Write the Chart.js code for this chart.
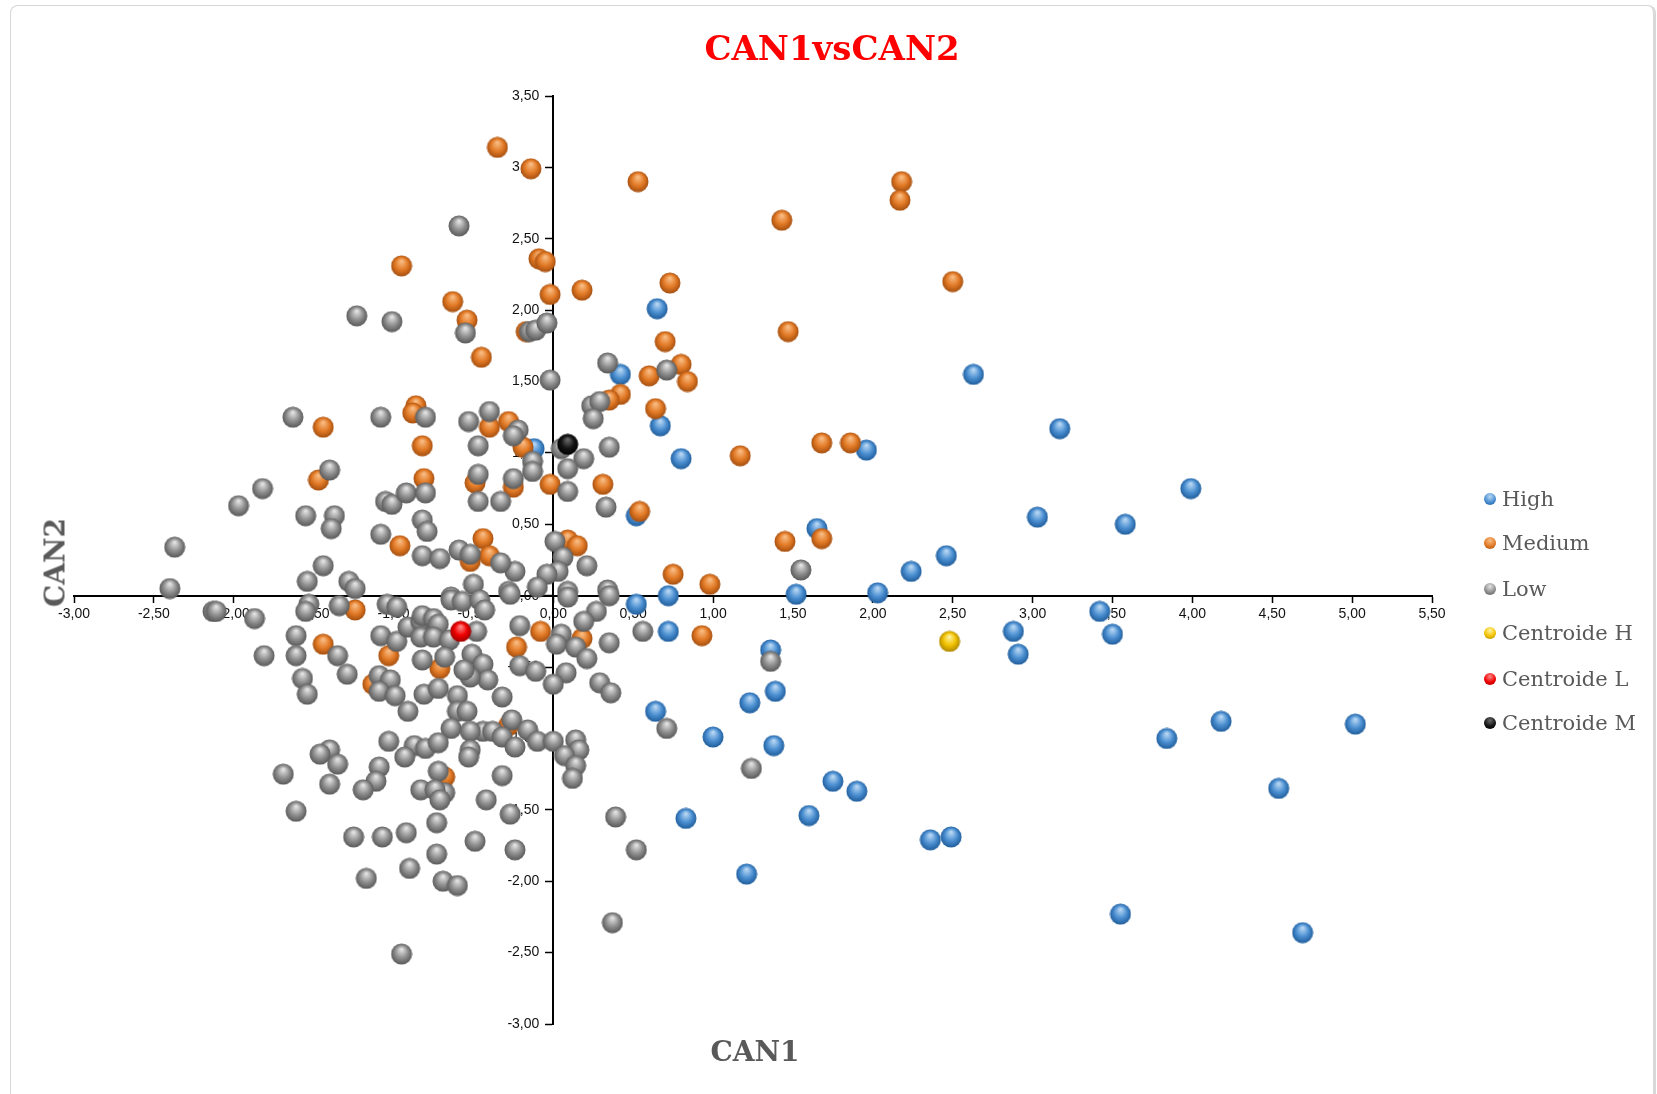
<!DOCTYPE html>
<html lang="es">
<head>
<meta charset="UTF-8">
<title>CAN1vsCAN2</title>
<script src="https://cdn.jsdelivr.net/npm/chart.js"></script>
<style>
  html, body { margin: 0; padding: 0; background: #fff; }
  .page { position: relative; width: 1657px; height: 1094px; overflow: hidden; }
  .frame {
    position: absolute; left: 10px; top: 5px; width: 1642px; height: 1120px;
    border: 1px solid #d6d6d6; border-right: 3px solid #d9d9d9; border-radius: 8px;
  }
  #chart { position: absolute; left: 0; top: 0; }
  .title {
    position: absolute; left: 0; width: 1664px; top: 28px; line-height: 34px;
    text-align: center; font: bold 34px 'DejaVu Serif', serif; color: #ff0000;
  }
  .axis-title {
    position: absolute; width: 240px; line-height: 28px; text-align: center;
    font: bold 28px 'DejaVu Serif', serif; color: #595959;
  }
  #xTitle { left: 635px; top: 1035px; }
  #yTitle { left: -65px; top: 546px; transform: rotate(-90deg); }
  .legend { position: absolute; left: 1483px; top: 0; }
  .legend-item {
    position: absolute; left: 0; height: 22px; white-space: nowrap;
    font: 21px/22px 'DejaVu Serif', serif; color: #595959;
  }
  .legend-item span.dot {
    position: absolute; left: 1px; top: 5px; width: 12px; height: 12px; border-radius: 50%;
  }
  .legend-item span.txt { position: absolute; left: 19px; top: 0; }
</style>
</head>
<body>
<div class="page">
  <div class="frame"></div>
  <canvas id="chart" width="1657" height="1094"></canvas>
  <div class="title">CAN1vsCAN2</div>
  <div class="axis-title" id="xTitle">CAN1</div>
  <div class="axis-title" id="yTitle">CAN2</div>
  <div class="legend" id="legend"></div>
</div>

<script>
// series names as in the legend
const seriesNames = ['High', 'Medium', 'Low', 'Centroide H', 'Centroide L', 'Centroide M'];

// [CAN1, CAN2] pairs
const high = [
  [0.65, 2.01], [0.42, 1.55], [0.67, 1.19], [0.80, 0.96], [-0.12, 1.03], [0.52, 0.56],
  [0.52, -0.06], [0.72, 0.00], [0.72, -0.25], [0.64, -0.81], [1.00, -0.99], [0.83, -1.56],
  [1.21, -1.95], [1.23, -0.75], [1.36, -0.38], [1.39, -0.67], [1.38, -1.05], [1.52, 0.01],
  [1.65, 0.47], [1.75, -1.30], [1.90, -1.37], [1.60, -1.54], [1.96, 1.02], [2.03, 0.02],
  [2.24, 0.17], [2.46, 0.28], [2.36, -1.71], [2.49, -1.69], [2.63, 1.55], [2.88, -0.25],
  [2.91, -0.41], [3.03, 0.55], [3.17, 1.17], [3.42, -0.11], [3.50, -0.27], [3.58, 0.50],
  [3.55, -2.23], [3.84, -1.00], [3.99, 0.75], [4.18, -0.88], [4.54, -1.35], [4.69, -2.36],
  [5.02, -0.90]
];

const medium = [
  [-0.35, 3.14], [-0.14, 2.99], [0.53, 2.90], [2.18, 2.90], [2.17, 2.77], [1.43, 2.63],
  [-0.09, 2.36], [-0.05, 2.34], [-0.95, 2.31], [2.50, 2.20], [0.73, 2.19], [-0.02, 2.11],
  [0.18, 2.14], [-0.63, 2.06], [-0.54, 1.93], [-0.17, 1.85], [1.47, 1.85], [-0.45, 1.67],
  [0.70, 1.78], [0.80, 1.62], [0.84, 1.50], [0.60, 1.54], [0.64, 1.31], [0.42, 1.41],
  [0.35, 1.37], [-0.86, 1.33], [-0.88, 1.28], [-1.44, 1.18], [-0.28, 1.22], [-0.40, 1.18],
  [-0.82, 1.05], [-0.19, 1.04], [1.17, 0.98], [1.68, 1.07], [1.86, 1.07], [-1.47, 0.81],
  [-0.81, 0.82], [-0.49, 0.79], [-0.25, 0.76], [-0.02, 0.78], [0.31, 0.78], [0.54, 0.59],
  [-0.96, 0.35], [-0.44, 0.40], [0.09, 0.39], [0.15, 0.35], [1.45, 0.38], [1.68, 0.40],
  [-0.52, 0.24], [-0.40, 0.28], [0.75, 0.15], [0.98, 0.08], [-1.24, -0.10], [-1.44, -0.34],
  [-1.03, -0.42], [-1.13, -0.62], [-0.23, -0.36], [-0.08, -0.25], [0.18, -0.30], [0.93, -0.28],
  [-0.71, -0.51], [-0.68, -1.27], [-0.28, -0.91]
];

const low = [
  [-1.23, 1.96], [-1.01, 1.92], [-1.63, 1.25], [-1.08, 1.25], [-0.80, 1.25], [-1.40, 0.88],
  [-1.82, 0.75], [-1.97, 0.63], [-1.55, 0.56], [-1.37, 0.56], [-1.39, 0.47], [-1.05, 0.66],
  [-1.01, 0.64], [-0.92, 0.72], [-0.80, 0.72], [-0.82, 0.53], [-0.79, 0.45], [-1.08, 0.43],
  [-0.82, 0.28], [-2.37, 0.34], [-2.40, 0.05], [-1.44, 0.21], [-1.54, 0.10], [-1.28, 0.10],
  [-1.24, 0.05],
  [-0.59, 2.59], [-0.55, 1.84], [-0.15, 1.85], [-0.11, 1.86], [-0.04, 1.91], [-0.02, 1.51],
  [0.34, 1.63], [0.71, 1.58], [0.24, 1.33], [0.29, 1.36], [0.25, 1.24], [-0.53, 1.22],
  [-0.40, 1.29], [-0.22, 1.16], [-0.25, 1.12], [-0.47, 1.05], [-0.13, 0.94], [-0.13, 0.87],
  [0.05, 1.03], [0.19, 0.96], [0.09, 0.89], [0.35, 1.04], [-0.47, 0.85], [-0.25, 0.82],
  [-0.47, 0.66], [-0.33, 0.66], [0.09, 0.73], [0.33, 0.62], [0.01, 0.38], [0.06, 0.27],
  [0.21, 0.21], [0.03, 0.17], [-0.04, 0.15], [-0.10, 0.06], [0.09, 0.03], [0.34, 0.04],
  [-0.24, 0.17], [-0.33, 0.23], [-0.50, 0.08], [-0.59, 0.32], [-0.52, 0.29], [-0.71, 0.26],
  [-0.28, 0.03], [-0.64, -0.01],
  [-2.13, -0.11], [-2.11, -0.11], [-1.87, -0.16], [-1.53, -0.06], [-1.55, -0.11], [-1.34, -0.07],
  [-1.04, -0.06], [-0.98, -0.08], [-1.61, -0.28], [-1.61, -0.42], [-1.81, -0.42], [-1.35, -0.42],
  [-1.29, -0.55], [-1.57, -0.58], [-1.54, -0.69], [-1.08, -0.28], [-0.98, -0.32], [-0.91, -0.22],
  [-0.83, -0.18], [-0.82, -0.14], [-0.83, -0.29], [-0.82, -0.45], [-1.09, -0.56], [-1.02, -0.59],
  [-1.09, -0.67], [-0.99, -0.70], [-0.91, -0.81], [-0.81, -0.69], [-1.03, -1.02], [-0.87, -1.05],
  [-0.93, -1.13], [-0.80, -1.07], [-1.40, -1.08], [-1.46, -1.11], [-1.35, -1.18], [-1.69, -1.25],
  [-1.40, -1.32], [-1.09, -1.20], [-1.11, -1.30], [-1.19, -1.36], [-0.83, -1.36], [-1.61, -1.51],
  [-1.25, -1.69], [-1.07, -1.69], [-0.92, -1.66], [-0.90, -1.91], [-1.17, -1.98], [-0.95, -2.51],
  [-0.64, -0.03], [-0.57, -0.04], [-0.46, -0.03], [-0.43, -0.10], [-0.27, 0.01], [0.09, -0.01],
  [0.35, 0.00], [-0.75, -0.16], [-0.72, -0.20], [-0.75, -0.29], [-0.65, -0.31], [-0.48, -0.25],
  [-0.21, -0.21], [0.27, -0.11], [0.19, -0.18], [0.05, -0.27], [0.02, -0.34], [0.14, -0.36],
  [0.21, -0.44], [0.35, -0.33], [0.56, -0.25], [-0.68, -0.43], [-0.51, -0.41], [-0.44, -0.48],
  [-0.41, -0.59], [-0.52, -0.57], [-0.56, -0.52], [-0.21, -0.49], [-0.11, -0.53], [0.08, -0.54],
  [0.00, -0.62], [0.29, -0.61], [0.36, -0.68], [-0.72, -0.65], [-0.60, -0.70], [-0.32, -0.71],
  [-0.60, -0.81], [-0.54, -0.81], [-0.64, -0.93], [-0.26, -0.87], [-0.16, -0.94], [-0.10, -1.02],
  [0.00, -1.02], [0.14, -1.01], [0.16, -1.08], [0.07, -1.12], [0.14, -1.19], [0.12, -1.28],
  [-0.44, -0.95], [-0.38, -0.95], [-0.52, -0.95], [-0.32, -0.99], [-0.24, -1.06], [-0.52, -1.08],
  [-0.53, -1.13], [-0.72, -1.03], [-0.72, -1.23], [-0.68, -1.38], [-0.74, -1.36], [-0.71, -1.43],
  [-0.32, -1.26], [-0.42, -1.43], [-0.27, -1.53], [-0.73, -1.59], [-0.49, -1.72], [-0.24, -1.78],
  [-0.73, -1.81], [-0.69, -2.00], [-0.60, -2.03], [0.39, -1.55], [0.52, -1.78], [0.71, -0.93],
  [0.37, -2.29], [1.55, 0.18], [1.36, -0.46], [1.24, -1.21]
];

const centroidH = [[2.48, -0.32]];
const centroidL = [[-0.58, -0.25]];
const centroidM = [[0.09, 1.06]];

// tick range of both axes
const xTicks = { min: -3, max: 5.5, step: 0.5 };
const yTicks = { min: -3, max: 3.5, step: 0.5 };

// sphere shading: [light, base, dark]
const shades = [
  ['#b9d8f4', '#4b8fd1', '#1d5a98'],
  ['#f9bd85', '#e27a26', '#a14c0e'],
  ['#e4e4e4', '#8f8f8f', '#555555'],
  ['#fff3a0', '#f2c200', '#a98300'],
  ['#ff8a8a', '#f00000', '#9a0000'],
  ['#6a6a6a', '#141414', '#000000']
];

function sphere(c, size) {
  const cv = document.createElement('canvas');
  cv.width = size; cv.height = size;
  const g = cv.getContext('2d');
  const r = size / 2;
  const grad = g.createRadialGradient(r, r * 0.55, r * 0.05, r, r, r);
  grad.addColorStop(0, c[0]);
  grad.addColorStop(0.55, c[1]);
  grad.addColorStop(1, c[2]);
  g.fillStyle = grad;
  g.beginPath();
  g.arc(r, r, r - 0.5, 0, Math.PI * 2);
  g.fill();
  return cv;
}

function toPoints(arr) {
  return arr.map(p => ({ x: p[0], y: p[1] }));
}

const seriesData = [high, medium, low, centroidH, centroidL, centroidM];
const drawOrder = [3, 2, 1, 0, 0, 0];

const datasets = seriesData.map((d, i) => ({
  label: seriesNames[i],
  data: toPoints(d),
  pointStyle: sphere(shades[i], 22),
  pointRadius: 11,
  order: drawOrder[i]
}));

const fmt = v => Number(v).toFixed(2).replace('.', ',');
const tickFont = { family: "'Liberation Sans', Arial, sans-serif", size: 14 };

new Chart(document.getElementById('chart'), {
  type: 'scatter',
  data: { datasets: datasets },
  options: {
    responsive: false,
    animation: false,
    layout: { padding: { left: 74, top: 96, right: 225, bottom: 70 } },
    plugins: {
      legend: { display: false },
      title: { display: false },
      tooltip: { enabled: false }
    },
    scales: {
      x: {
        type: 'linear',
        min: xTicks.min, max: xTicks.max,
        position: { y: 0 },
        ticks: { stepSize: xTicks.step, callback: fmt, font: tickFont, color: '#111', padding: 4, maxRotation: 0, autoSkip: false },
        grid: { drawOnChartArea: false, drawTicks: true, tickLength: 6, color: '#000', tickWidth: 1.5 },
        border: { display: true, color: '#000', width: 2 }
      },
      y: {
        type: 'linear',
        min: yTicks.min, max: yTicks.max,
        position: { x: 0 },
        // labels of a value-positioned axis sit right against the line, so keep a gap after the text
        ticks: { stepSize: yTicks.step, callback: v => fmt(v) + '\u2003', font: tickFont, color: '#111', padding: 3, autoSkip: false },
        grid: { drawOnChartArea: false, drawTicks: true, tickLength: 7, color: '#000', tickWidth: 1.5 },
        border: { display: true, color: '#000', width: 2 }
      }
    }
  }
});

// legend on the right, one row per series
const legendTop = [488, 532, 578, 622, 668, 712];
const legend = document.getElementById('legend');
seriesNames.forEach((name, i) => {
  const item = document.createElement('div');
  item.className = 'legend-item';
  item.style.top = legendTop[i] + 'px';
  const c = shades[i];
  item.innerHTML = '<span class="dot" style="background: radial-gradient(circle at 50% 30%, ' +
    c[0] + ' 0%, ' + c[1] + ' 55%, ' + c[2] + ' 100%)"></span><span class="txt">' + name + '</span>';
  legend.appendChild(item);
});
</script>
</body>
</html>
